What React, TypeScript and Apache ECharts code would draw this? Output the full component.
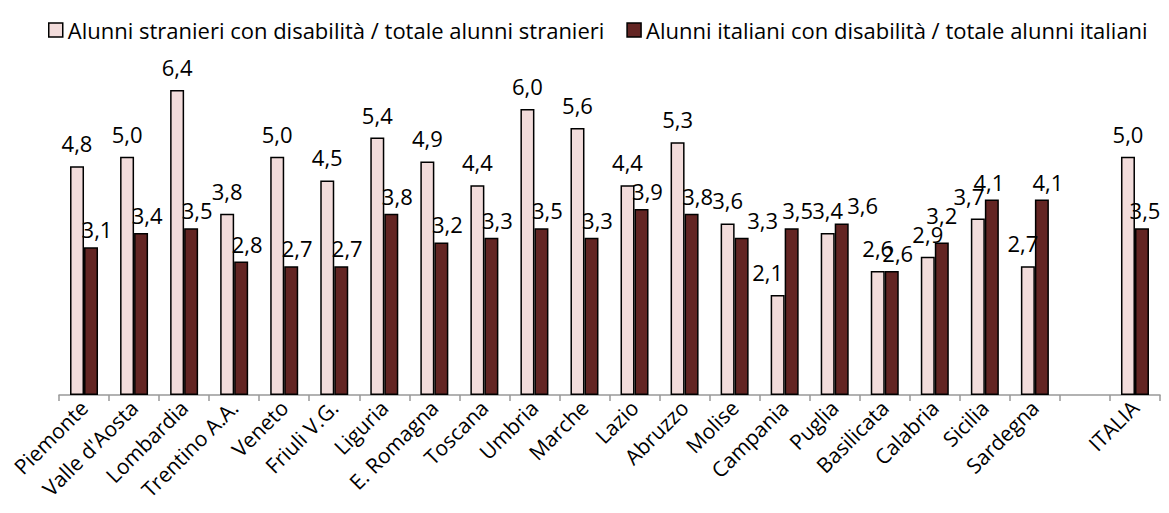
import React, { useEffect, useRef } from "react";
import * as echarts from "echarts";

const categories = [
  "Piemonte", "Valle d'Aosta", "Lombardia", "Trentino A.A.", "Veneto", "Friuli V.G.",
  "Liguria", "E. Romagna", "Toscana", "Umbria", "Marche", "Lazio", "Abruzzo", "Molise",
  "Campania", "Puglia", "Basilicata", "Calabria", "Sicilia", "Sardegna", "", "ITALIA",
];
const stranieri = [4.8, 5.0, 6.4, 3.8, 5.0, 4.5, 5.4, 4.9, 4.4, 6.0, 5.6, 4.4, 5.3, 3.6, 2.1, 3.4, 2.6, 2.9, 3.7, 2.7, null, 5.0];
const italiani = [3.1, 3.4, 3.5, 2.8, 2.7, 2.7, 3.8, 3.2, 3.3, 3.5, 3.3, 3.9, 3.8, 3.3, 3.5, 3.6, 2.6, 3.2, 4.1, 4.1, null, 3.5];
const seriesNames = [
  "Alunni stranieri con disabilità / totale alunni stranieri",
  "Alunni italiani con disabilità / totale alunni italiani",
];

// label nudges (styling only), keyed by category index
const pinkLabelNudge: Record<number, number[]> = { 14: [-10, 0], 18: [-9, 0], 19: [-5, 0] };
const darkLabelNudge: Record<number, number[]> = { 13: [21, 0], 15: [21, 0], 17: [0, -9], 18: [-3, 0], 21: [3, 0] };

const FONT = "'Open Sans', 'Noto Sans', sans-serif";
const fmt = (p: any) => (p.value == null ? "" : Number(p.value).toFixed(1).replace(".", ","));

function withNudges(values: (number | null)[], nudges: Record<number, number[]>) {
  return values.map((v, i) =>
    nudges[i] ? { value: v, label: { offset: nudges[i] } } : v
  );
}

export default function App() {
  const ref = useRef<HTMLDivElement>(null);
  useEffect(() => {
    if (!ref.current) return;
    const chart = echarts.init(ref.current, undefined, { renderer: "svg" });
    chart.setOption({
      animation: false,
      textStyle: { fontFamily: FONT, color: "#000" },
      legend: {
        left: 43,
        top: 14,
        itemWidth: 14,
        itemHeight: 14,
        itemGap: 22,
        icon: "rect",
        textStyle: { fontSize: 22, color: "#000", fontFamily: FONT },
        data: seriesNames.map((n) => ({ name: n, itemStyle: { borderColor: "#000", borderWidth: 1.5 } })),
      },
      grid: { left: 59, right: 9, top: 395 - 7 * 47.67, bottom: 118, containLabel: false },
      xAxis: {
        type: "category",
        data: categories,
        axisLine: { lineStyle: { color: "#999", width: 1.5 } },
        axisTick: { show: true, length: 6, lineStyle: { color: "#999", width: 1.5 } },
        axisLabel: { rotate: 45, fontSize: 21, color: "#000", margin: 9, interval: 0, fontFamily: FONT },
      },
      yAxis: {
        type: "value",
        min: 0,
        max: 7,
        show: false,
        splitLine: { show: false },
      },
      series: [
        {
          name: seriesNames[0],
          type: "bar",
          data: withNudges(stranieri, pinkLabelNudge),
          barWidth: 14,
          barGap: "0%",
          itemStyle: { color: "#F2DCDB", borderColor: "#000", borderWidth: 1.5 },
          label: { show: true, position: "top", distance: 12, offset: [0, 0], fontSize: 22, color: "#000", formatter: fmt, fontFamily: FONT },
        },
        {
          name: seriesNames[1],
          type: "bar",
          data: withNudges(italiani, darkLabelNudge),
          barWidth: 14,
          itemStyle: { color: "#632523", borderColor: "#000", borderWidth: 1.5 },
          label: { show: true, position: "top", distance: 7, offset: [6, 0], fontSize: 22, color: "#000", formatter: fmt, fontFamily: FONT },
        },
      ],
    });
    return () => chart.dispose();
  }, []);
  return <div ref={ref} style={{ width: 1169, height: 513, position: "absolute", left: 0, top: 0 }} />;
}
